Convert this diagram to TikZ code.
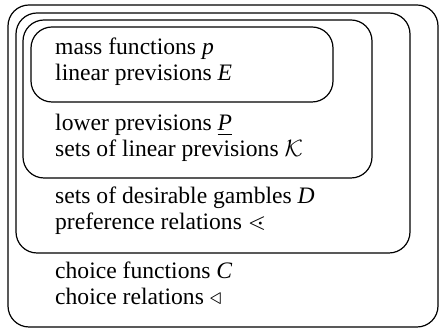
\RequirePackage{fix-cm}
\documentclass[tikz,border=0pt]{standalone}
\usepackage{amssymb}
\usepackage{fontspec}
\setmainfont{Liberation Serif}
\tikzset{
  layer/.style={draw, line width=1.2pt, rounded corners=21pt},
  boxtext/.style={anchor=base west, align=left, inner sep=0pt,
    font=\fontsize{23.6}{26}\selectfont}
}
\begin{document}
\begin{tikzpicture}[x=1pt,y=1pt]
\useasboundingbox (0,0) rectangle (440,329);
% nested models, outermost first
\draw[layer] (8,2) rectangle (438,324);
\draw[layer] (16,76) rectangle (410,316);
\draw[layer] (23,151) rectangle (372,309);
\draw[layer] (31,227) rectangle (333,302);
% base is the last line of each node
\node[boxtext] (mass) at (55,248)
  {mass functions \textit{p}\\ linear previsions \textit{E}};
\node[boxtext] (lower) at (55,172)
  {lower previsions \underline{\textit{P}}\\ sets of linear previsions $\mathcal{K}$};
\node[boxtext] (desir) at (55,99)
  {sets of desirable gambles \textit{D}\\ preference relations $\lessdot$};
\node[boxtext] (choice) at (55,24)
  {choice functions \textit{C}\\ choice relations $\triangleleft$};
\end{tikzpicture}
\end{document}
